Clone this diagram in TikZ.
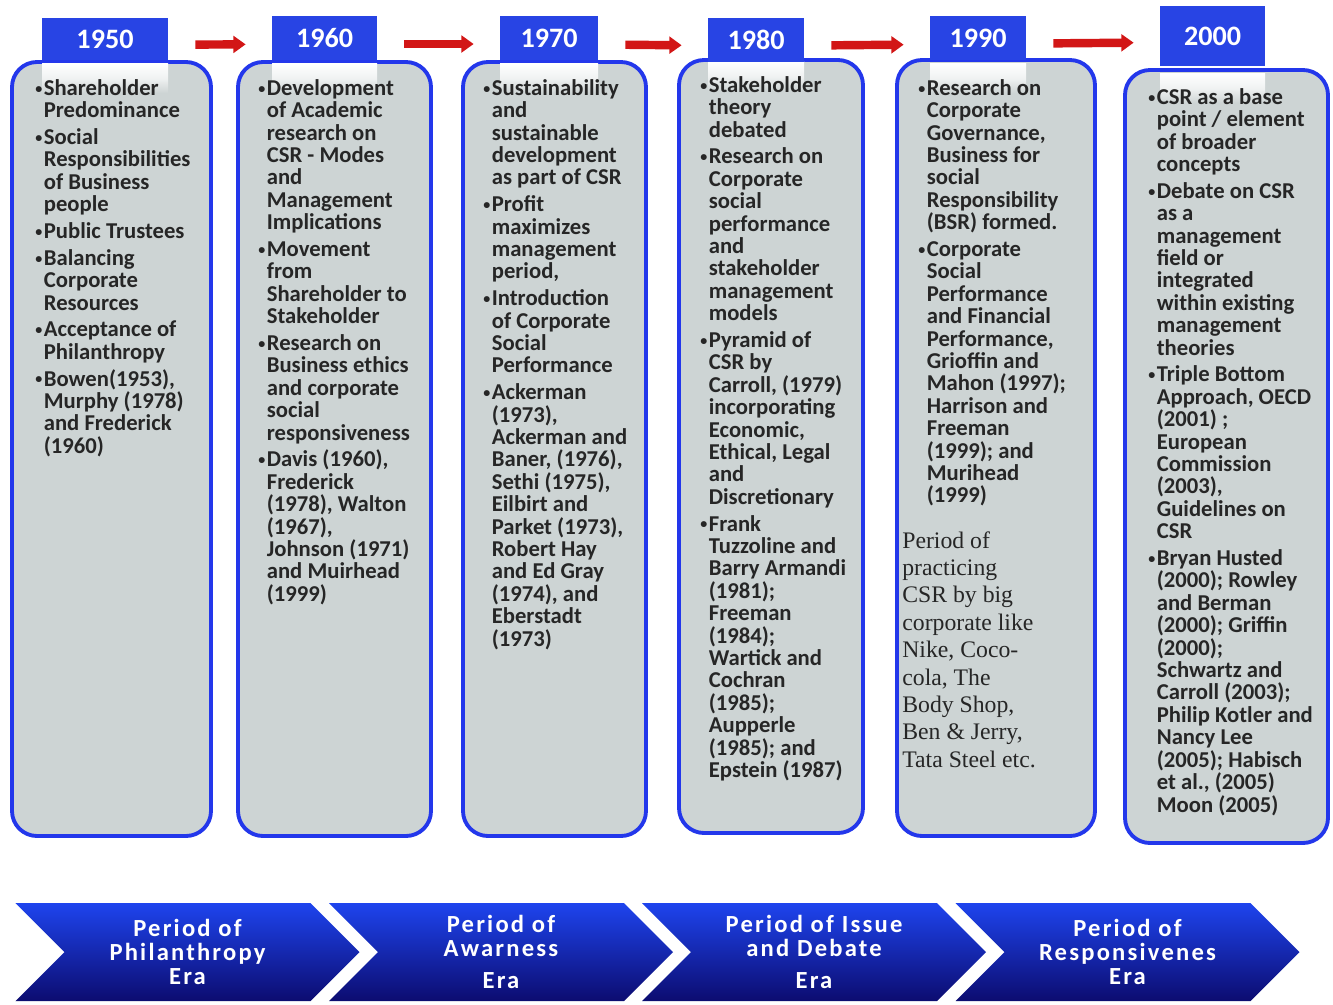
\documentclass[tikz,border=0pt]{standalone}
\usepackage{fontspec}
\usepackage{xcolor}
\usepackage{tikz}
\usetikzlibrary{shapes.symbols,arrows.meta,positioning}
\setmainfont{Carlito}
\newfontfamily\serifpart{Liberation Serif}

\definecolor{boxgray}{RGB}{205,212,212}
\definecolor{frameblue}{RGB}{35,55,235}
\definecolor{tabblue}{RGB}{40,68,228}
\definecolor{arrowred}{RGB}{210,22,22}
\definecolor{textgray}{RGB}{38,38,38}
\definecolor{navytop}{RGB}{30,68,238}
\definecolor{navymid}{RGB}{20,40,222}
\definecolor{navybot}{RGB}{12,12,112}

\newcommand{\itm}{\makebox[0.17cm][l]{\raisebox{0.2ex}{\fontsize{8}{8}\selectfont\textbullet}}}
\newcommand{\indl}{\hspace*{0.17cm}}

\begin{document}
\begin{tikzpicture}[
		erabox/.style={rectangle, rounded corners=0.5cm, draw=frameblue, line width=2.2pt, fill=boxgray},
		yeartab/.style={rectangle, fill=tabblue, text=white, font=\bfseries\fontsize{16}{16}\selectfont},
		glare/.style={top color=white, bottom color=boxgray, middle color=white!70!boxgray},
		items/.style={anchor=north west, inner sep=0pt, align=left, text=textgray, font=\bfseries\fontsize{12.9}{12.75}\selectfont},
		plain/.style={anchor=north west, inner sep=0pt, align=left, text=textgray, font=\serifpart\fontsize{13.5}{15.6}\selectfont},
		period/.style={signal, signal to=east, signal from=west, signal pointer angle=90, inner sep=0pt,
			minimum width=6.88cm, minimum height=1.96cm, top color=navytop, middle color=navymid, bottom color=navybot,
			text=white, align=center, font=\bfseries\fontsize{14}{13.6}\selectfont\addfontfeature{LetterSpace=9}},
		redarrow/.style={draw=arrowred, line width=4.8pt, -{Triangle[length=7pt,width=9.5pt]}, shorten <=0.54cm, shorten >=0.52cm}
		]
		\useasboundingbox (0,0) rectangle (26.66,-20.08);
		
		% 方框
		\node (b1950) [erabox, minimum width=3.98cm, minimum height=15.48cm] at (2.23,-8.98) {};
		\node (b1960) [erabox, minimum width=3.86cm, minimum height=15.48cm] at (6.69,-8.98) {};
		\node (b1970) [erabox, minimum width=3.66cm, minimum height=15.48cm] at (11.09,-8.98) {};
		\node (b1980) [erabox, minimum width=3.68cm, minimum height=15.46cm] at (15.42,-8.93) {};
		\node (b1990) [erabox, minimum width=3.96cm, minimum height=15.52cm] at (19.92,-8.96) {};
		\node (b2000) [erabox, minimum width=4.06cm, minimum height=15.46cm] at (24.53,-9.13) {};
		
		% 高光
		\shade [glare] (0.84,-1.27) rectangle (3.36,-1.86);
		\shade [glare] (5.44,-1.27) rectangle (7.54,-1.86);
		\shade [glare] (10.00,-1.27) rectangle (11.96,-1.86);
		\shade [glare] (14.16,-1.23) rectangle (16.08,-1.82);
		\shade [glare] (18.60,-1.27) rectangle (20.52,-1.86);
		\shade [glare] (23.20,-1.47) rectangle (25.30,-2.06);
		
		% 年份
		\node (t1950) [yeartab, minimum width=2.52cm, minimum height=0.84cm] at (2.10,-0.78) {1950};
		\node (t1960) [yeartab, minimum width=2.10cm, minimum height=0.88cm] at (6.49,-0.76) {1960};
		\node (t1970) [yeartab, minimum width=1.96cm, minimum height=0.88cm] at (10.98,-0.76) {1970};
		\node (t1980) [yeartab, minimum width=1.92cm, minimum height=0.88cm] at (15.12,-0.80) {1980};
		\node (t1990) [yeartab, minimum width=1.92cm, minimum height=0.88cm] at (19.56,-0.76) {1990};
		\node (t2000) [yeartab, minimum width=2.10cm, minimum height=1.20cm] at (24.25,-0.72) {2000};
		
		% 箭头
		\begin{scope}[transform canvas={yshift=-0.12cm}]
			\draw [redarrow] (t1950) -- (t1960);
			\draw [redarrow] (t1960) -- (t1970);
			\draw [redarrow] (t1970) -- (t1980);
			\draw [redarrow] (t1980) -- (t1990);
			\draw [redarrow] (t1990) -- (t2000);
		\end{scope}
		
		% 内容
		\node (n1950) [items] at (0.70,-1.58) {\itm Shareholder\\ \indl Predominance\\[2.5pt]
			\itm Social\\ \indl Responsibilities\\ \indl of Business\\ \indl people\\[2.5pt]
			\itm Public Trustees\\[2.5pt]
			\itm Balancing\\ \indl Corporate\\ \indl Resources\\[2.5pt]
			\itm Acceptance of\\ \indl Philanthropy\\[2.5pt]
			\itm Bowen(1953),\\ \indl Murphy (1978)\\ \indl and Frederick\\ \indl (1960)};
		\node (n1960) [items] at (5.16,-1.58) {\itm Development\\ \indl of Academic\\ \indl research on\\ \indl CSR - Modes\\ \indl and\\ \indl Management\\ \indl Implications\\[2.5pt]
			\itm Movement\\ \indl from\\ \indl Shareholder to\\ \indl Stakeholder\\[2.5pt]
			\itm Research on\\ \indl Business ethics\\ \indl and corporate\\ \indl social\\ \indl responsiveness\\[2.5pt]
			\itm Davis (1960),\\ \indl Frederick\\ \indl (1978), Walton\\ \indl (1967),\\ \indl Johnson (1971)\\ \indl and Muirhead\\ \indl (1999)};
		\node (n1970) [items] at (9.66,-1.58) {\itm Sustainability\\ \indl and\\ \indl sustainable\\ \indl development\\ \indl as part of CSR\\[2.5pt]
			\itm Profit\\ \indl maximizes\\ \indl management\\ \indl period,\\[2.5pt]
			\itm Introduction\\ \indl of Corporate\\ \indl Social\\ \indl Performance\\[2.5pt]
			\itm Ackerman\\ \indl (1973),\\ \indl Ackerman and\\ \indl Baner, (1976),\\ \indl Sethi (1975),\\ \indl Eilbirt and\\ \indl Parket (1973),\\ \indl Robert Hay\\ \indl and Ed Gray\\ \indl (1974), and\\ \indl Eberstadt\\ \indl (1973)};
		\node (n1980) [items] at (14.00,-1.52) {\itm Stakeholder\\ \indl theory\\ \indl debated\\[2.5pt]
			\itm Research on\\ \indl Corporate\\ \indl social\\ \indl performance\\ \indl and\\ \indl stakeholder\\ \indl management\\ \indl models\\[2.5pt]
			\itm Pyramid of\\ \indl CSR by\\ \indl Carroll, (1979)\\ \indl incorporating\\ \indl Economic,\\ \indl Ethical, Legal\\ \indl and\\ \indl Discretionary\\[2.5pt]
			\itm Frank\\ \indl Tuzzoline and\\ \indl Barry Armandi\\ \indl (1981);\\ \indl Freeman\\ \indl (1984);\\ \indl Wartick and\\ \indl Cochran\\ \indl (1985);\\ \indl Aupperle\\ \indl (1985); and\\ \indl Epstein (1987)};
		\node (n1990) [items] at (18.36,-1.58) {\itm Research on\\ \indl Corporate\\ \indl Governance,\\ \indl Business for\\ \indl social\\ \indl Responsibility\\ \indl (BSR) formed.\\[2.5pt]
			\itm Corporate\\ \indl Social\\ \indl Performance\\ \indl and Financial\\ \indl Performance,\\ \indl Grioffin and\\ \indl Mahon (1997);\\ \indl Harrison and\\ \indl Freeman\\ \indl (1999); and\\ \indl Murihead\\ \indl (1999)};
		\node (p1990) [plain] at (18.04,-10.62) {Period of\\ practicing\\ CSR by big\\ corporate like\\ Nike, Coco-\\ cola, The\\ Body Shop,\\ Ben \& Jerry,\\ Tata Steel etc.};
		\node (n2000) [items] at (22.96,-1.76) {\itm CSR as a base\\ \indl point / element\\ \indl of broader\\ \indl concepts\\[2.5pt]
			\itm Debate on CSR\\ \indl as a\\ \indl management\\ \indl field or\\ \indl integrated\\ \indl within existing\\ \indl management\\ \indl theories\\[2.5pt]
			\itm Triple Bottom\\ \indl Approach, OECD\\ \indl (2001) ;\\ \indl European\\ \indl Commission\\ \indl (2003),\\ \indl Guidelines on\\ \indl CSR\\[2.5pt]
			\itm Bryan Husted\\ \indl (2000); Rowley\\ \indl and Berman\\ \indl (2000); Griffin\\ \indl (2000);\\ \indl Schwartz and\\ \indl Carroll (2003);\\ \indl Philip Kotler and\\ \indl Nancy Lee\\ \indl (2005); Habisch\\ \indl et al., (2005)\\ \indl Moon (2005)};
		
		% 时期
		\node (c1) [period] at (3.75,-19.04) {Period of\\ Philanthropy\\ Era};
		\node (c2) [period] at (10.02,-19.04) {Period of\\ Awarness\\[5pt] Era};
		\node (c3) [period] at (16.28,-19.04) {Period of Issue\\ and Debate\\[5pt] Era};
		\node (c4) [period] at (22.55,-19.04) {Period of\\ Responsivenes\\ Era};
		
\end{tikzpicture}
\end{document}
